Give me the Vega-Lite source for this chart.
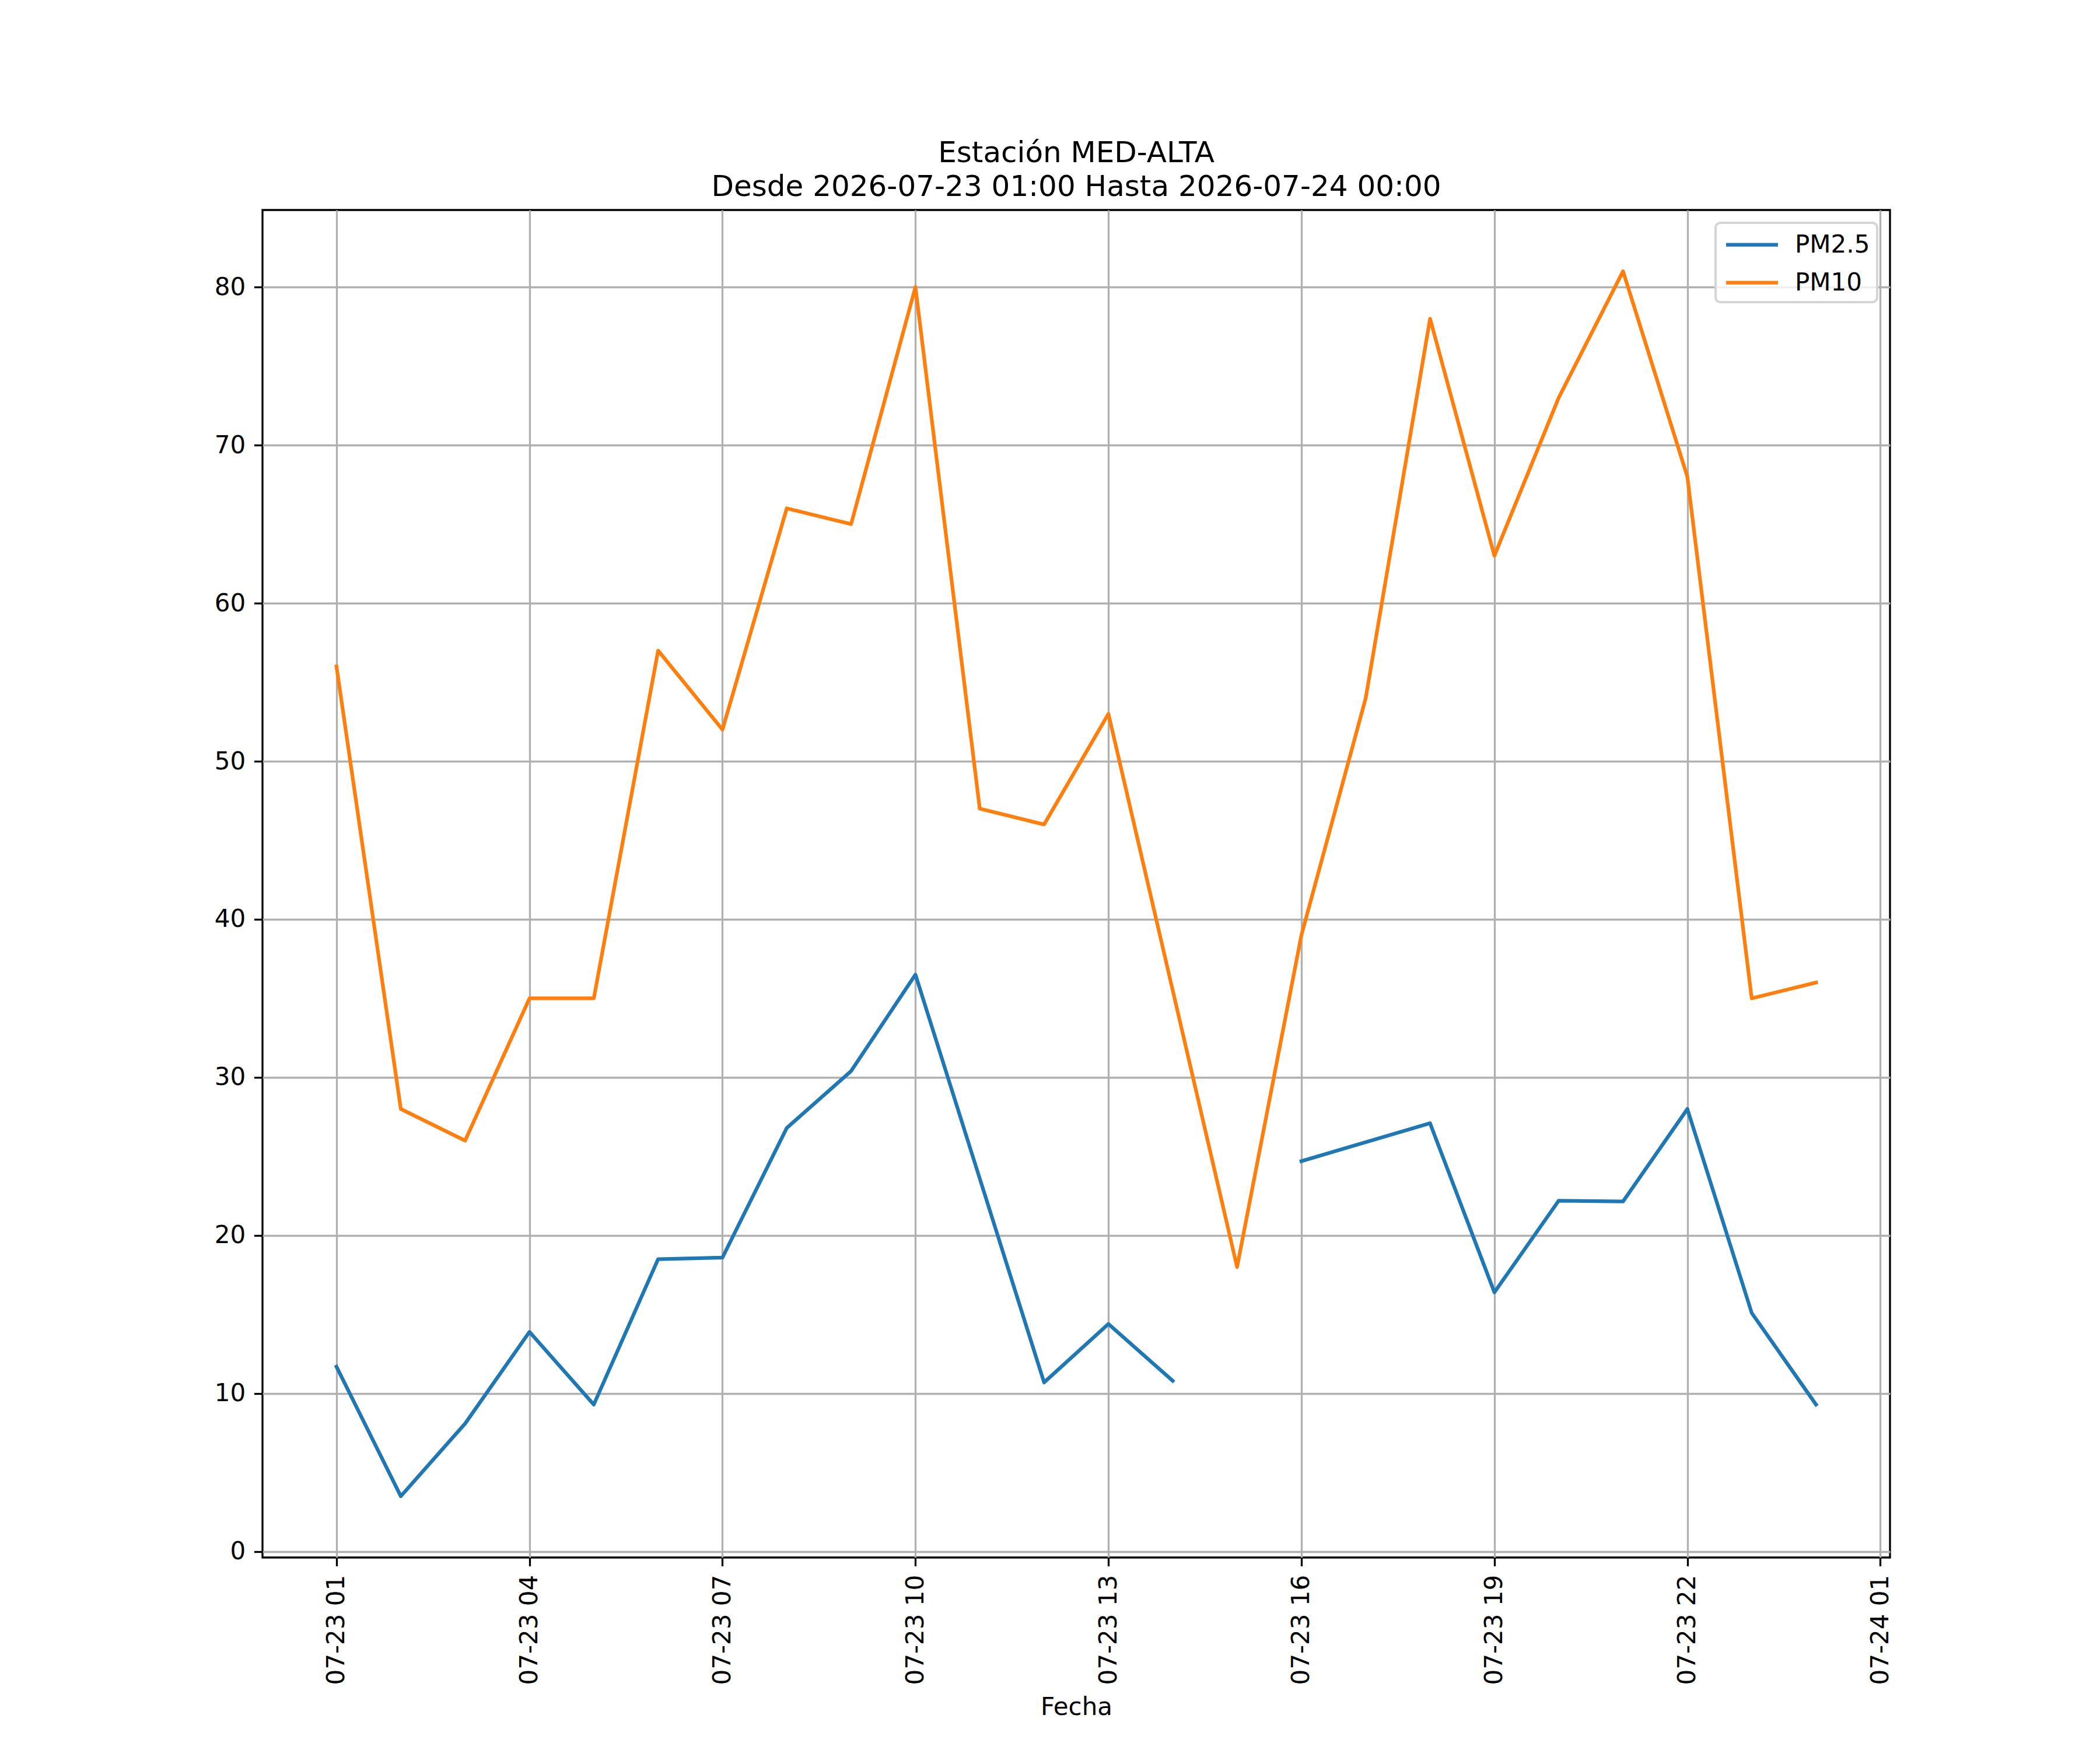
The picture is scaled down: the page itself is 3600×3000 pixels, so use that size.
{
  "$schema": "https://vega.github.io/schema/vega-lite/v6.json",
  "width": 2790,
  "height": 2310,
  "autosize": {"type": "none"},
  "padding": {"left": 450, "top": 360, "right": 360, "bottom": 330},
  "background": "white",
  "title": {
    "text": ["Estación MED-ALTA", "Desde 2026-07-23 01:00 Hasta 2026-07-24 00:00"],
    "anchor": "middle",
    "font": "DejaVu Sans",
    "fontSize": 50,
    "fontWeight": "normal",
    "color": "black",
    "lineHeight": 58,
    "offset": 14
  },
  "data": {
    "values": [
      {"fecha": "2026-07-23T01:00", "contaminante": "PM2.5", "valor": 11.7},
      {"fecha": "2026-07-23T02:00", "contaminante": "PM2.5", "valor": 3.5},
      {"fecha": "2026-07-23T03:00", "contaminante": "PM2.5", "valor": 8.1},
      {"fecha": "2026-07-23T04:00", "contaminante": "PM2.5", "valor": 13.9},
      {"fecha": "2026-07-23T05:00", "contaminante": "PM2.5", "valor": 9.3},
      {"fecha": "2026-07-23T06:00", "contaminante": "PM2.5", "valor": 18.5},
      {"fecha": "2026-07-23T07:00", "contaminante": "PM2.5", "valor": 18.6},
      {"fecha": "2026-07-23T08:00", "contaminante": "PM2.5", "valor": 26.8},
      {"fecha": "2026-07-23T09:00", "contaminante": "PM2.5", "valor": 30.4},
      {"fecha": "2026-07-23T10:00", "contaminante": "PM2.5", "valor": 36.5},
      {"fecha": "2026-07-23T11:00", "contaminante": "PM2.5", "valor": 23.6},
      {"fecha": "2026-07-23T12:00", "contaminante": "PM2.5", "valor": 10.7},
      {"fecha": "2026-07-23T13:00", "contaminante": "PM2.5", "valor": 14.4},
      {"fecha": "2026-07-23T14:00", "contaminante": "PM2.5", "valor": 10.8},
      {"fecha": "2026-07-23T15:00", "contaminante": "PM2.5", "valor": null},
      {"fecha": "2026-07-23T16:00", "contaminante": "PM2.5", "valor": 24.7},
      {"fecha": "2026-07-23T17:00", "contaminante": "PM2.5", "valor": 25.9},
      {"fecha": "2026-07-23T18:00", "contaminante": "PM2.5", "valor": 27.1},
      {"fecha": "2026-07-23T19:00", "contaminante": "PM2.5", "valor": 16.4},
      {"fecha": "2026-07-23T20:00", "contaminante": "PM2.5", "valor": 22.2},
      {"fecha": "2026-07-23T21:00", "contaminante": "PM2.5", "valor": 22.15},
      {"fecha": "2026-07-23T22:00", "contaminante": "PM2.5", "valor": 28.0},
      {"fecha": "2026-07-23T23:00", "contaminante": "PM2.5", "valor": 15.1},
      {"fecha": "2026-07-24T00:00", "contaminante": "PM2.5", "valor": 9.3},
      {"fecha": "2026-07-23T01:00", "contaminante": "PM10", "valor": 56},
      {"fecha": "2026-07-23T02:00", "contaminante": "PM10", "valor": 28},
      {"fecha": "2026-07-23T03:00", "contaminante": "PM10", "valor": 26},
      {"fecha": "2026-07-23T04:00", "contaminante": "PM10", "valor": 35},
      {"fecha": "2026-07-23T05:00", "contaminante": "PM10", "valor": 35},
      {"fecha": "2026-07-23T06:00", "contaminante": "PM10", "valor": 57},
      {"fecha": "2026-07-23T07:00", "contaminante": "PM10", "valor": 52},
      {"fecha": "2026-07-23T08:00", "contaminante": "PM10", "valor": 66},
      {"fecha": "2026-07-23T09:00", "contaminante": "PM10", "valor": 65},
      {"fecha": "2026-07-23T10:00", "contaminante": "PM10", "valor": 80},
      {"fecha": "2026-07-23T11:00", "contaminante": "PM10", "valor": 47},
      {"fecha": "2026-07-23T12:00", "contaminante": "PM10", "valor": 46},
      {"fecha": "2026-07-23T13:00", "contaminante": "PM10", "valor": 53},
      {"fecha": "2026-07-23T14:00", "contaminante": "PM10", "valor": 35.5},
      {"fecha": "2026-07-23T15:00", "contaminante": "PM10", "valor": 18},
      {"fecha": "2026-07-23T16:00", "contaminante": "PM10", "valor": 39},
      {"fecha": "2026-07-23T17:00", "contaminante": "PM10", "valor": 54},
      {"fecha": "2026-07-23T18:00", "contaminante": "PM10", "valor": 78},
      {"fecha": "2026-07-23T19:00", "contaminante": "PM10", "valor": 63},
      {"fecha": "2026-07-23T20:00", "contaminante": "PM10", "valor": 73},
      {"fecha": "2026-07-23T21:00", "contaminante": "PM10", "valor": 81},
      {"fecha": "2026-07-23T22:00", "contaminante": "PM10", "valor": 68},
      {"fecha": "2026-07-23T23:00", "contaminante": "PM10", "valor": 35},
      {"fecha": "2026-07-24T00:00", "contaminante": "PM10", "valor": 36}
    ]
  },
  "mark": {"type": "line", "strokeWidth": 6.25, "invalid": "break-paths-show-domains", "strokeCap": "square", "strokeJoin": "round"},
  "encoding": {
    "x": {
      "field": "fecha",
      "type": "temporal",
      "title": "Fecha",
      "scale": {
        "domain": [
          {"year": 2026, "month": 7, "date": 22, "hours": 23, "minutes": 51},
          {"year": 2026, "month": 7, "date": 24, "hours": 1, "minutes": 9}
        ],
        "nice": false
      },
      "axis": {
        "values": [
          {"year": 2026, "month": 7, "date": 23, "hours": 1},
          {"year": 2026, "month": 7, "date": 23, "hours": 4},
          {"year": 2026, "month": 7, "date": 23, "hours": 7},
          {"year": 2026, "month": 7, "date": 23, "hours": 10},
          {"year": 2026, "month": 7, "date": 23, "hours": 13},
          {"year": 2026, "month": 7, "date": 23, "hours": 16},
          {"year": 2026, "month": 7, "date": 23, "hours": 19},
          {"year": 2026, "month": 7, "date": 23, "hours": 22},
          {"year": 2026, "month": 7, "date": 24, "hours": 1}
        ],
        "format": "%m-%d %H",
        "labelAngle": 270,
        "labelAlign": "right",
        "labelBaseline": "middle",
        "titlePadding": 36
      }
    },
    "y": {
      "field": "valor",
      "type": "quantitative",
      "title": null,
      "scale": {"domain": [-0.375, 84.875], "nice": false, "zero": false},
      "axis": {"values": [0, 10, 20, 30, 40, 50, 60, 70, 80]}
    },
    "color": {
      "field": "contaminante",
      "type": "nominal",
      "title": null,
      "scale": {"domain": ["PM2.5", "PM10"], "range": ["#1f77b4", "#ff7f0e"]},
      "legend": {
        "orient": "none",
        "legendX": 2491,
        "legendY": 22
      }
    }
  },
  "config": {
    "font": "DejaVu Sans",
    "view": {"stroke": "black", "strokeWidth": 3.3},
    "axis": {
      "labelFont": "DejaVu Sans",
      "labelFontSize": 42,
      "labelColor": "black",
      "labelLimit": 0,
      "titleFont": "DejaVu Sans",
      "titleFontSize": 42,
      "titleFontWeight": "normal",
      "titleColor": "black",
      "domain": false,
      "ticks": true,
      "tickColor": "black",
      "tickWidth": 3.3,
      "tickSize": 14.6,
      "labelPadding": 14.6,
      "grid": true,
      "gridColor": "#b0b0b0",
      "gridWidth": 3.3,
      "labelOverlap": false,
      "labelFlush": false
    },
    "legend": {
      "labelFont": "DejaVu Sans",
      "labelFontSize": 42,
      "labelColor": "black",
      "labelLimit": 0,
      "symbolType": "M-2,0H2",
      "symbolSize": 1980,
      "symbolStrokeWidth": 6.25,
      "symbolOffset": 25,
      "labelOffset": 48,
      "rowPadding": 18,
      "padding": 12,
      "fillColor": "rgba(255,255,255,0.8)",
      "strokeColor": "#d5d5d5",
      "strokeWidth": 4,
      "cornerRadius": 8
    }
  }
}
